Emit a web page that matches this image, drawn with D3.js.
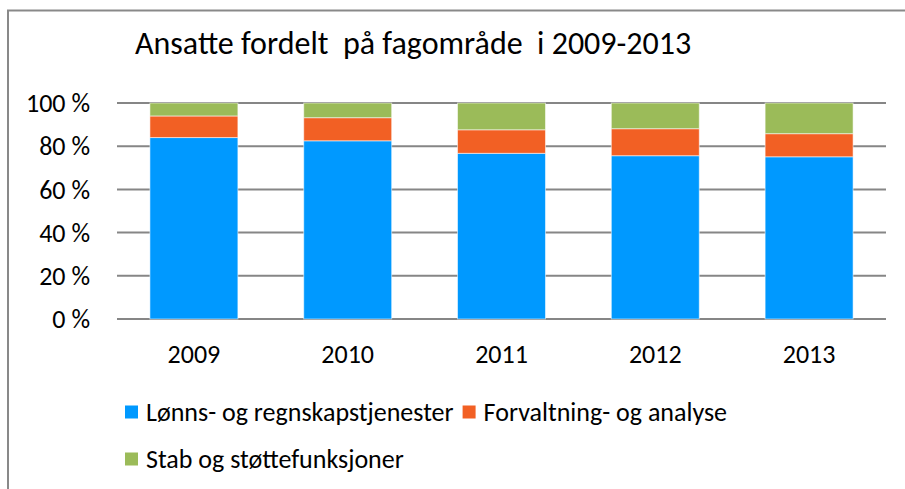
<!DOCTYPE html>
<html>
<head>
<meta charset="utf-8">
<script src="https://cdn.jsdelivr.net/npm/d3@7"></script>
<style>
  body { margin: 0; background: #fff; }
  text { font-family: Carlito, Lato, "Open Sans", sans-serif; fill: #000; }
</style>
</head>
<body>
<svg id="chart"></svg>
<script>
var years = ["2009", "2010", "2011", "2012", "2013"];
var lonn = [84, 82.5, 76.7, 75.6, 75.1];
var forvaltning = [10, 10.7, 10.9, 12.5, 10.7];
var stab = [6, 6.8, 12.4, 11.9, 14.2];
var seriesNames = ["Lønns- og regnskapstjenester", "Forvaltning- og analyse", "Stab og støttefunksjoner"];
var colors = ["#0099ff", "#f26024", "#9bbb59"];
var yTicks = [0, 20, 40, 60, 80, 100];

var width = 905;
var height = 489;

var svg = d3.select("#chart")
            .attr("width", width)
            .attr("height", height);

// frame
svg.append("rect")
   .attr("x", 8).attr("y", 10.5)
   .attr("width", 910).attr("height", 500)
   .attr("fill", "none")
   .attr("stroke", "#898989")
   .attr("stroke-width", 2);

svg.append("text")
   .text("Ansatte fordelt  på fagområde  i 2009-2013")
   .attr("x", 135)
   .attr("y", 54)
   .style("white-space", "pre")
   .attr("font-size", "32px");

var x = d3.scaleBand()
          .domain(years)
          .range([117, 886])
          .paddingInner(0.428)
          .paddingOuter(0.214);

var y = d3.scaleLinear()
          .domain([0, 100])
          .range([319, 103]);

// gridlines
svg.selectAll("line.grid")
   .data(yTicks)
   .enter()
   .append("line")
   .attr("class", "grid")
   .attr("x1", 117)
   .attr("x2", 886)
   .attr("y1", function(d) { return y(d); })
   .attr("y2", function(d) { return y(d); })
   .attr("stroke", "#868686")
   .attr("stroke-width", 2);

svg.selectAll("text.ytick")
   .data(yTicks)
   .enter()
   .append("text")
   .attr("class", "ytick")
   .text(function(d) { return d + " %"; })
   .attr("x", 90)
   .attr("y", function(d) { return y(d); })
   .attr("dy", "0.35em")
   .attr("text-anchor", "end")
   .attr("font-size", "26px");

var table = years.map(function(yr, i) {
  return { year: yr, s0: lonn[i], s1: forvaltning[i], s2: stab[i] };
});
var stacked = d3.stack().keys(["s0", "s1", "s2"])(table);

svg.selectAll("g.series")
   .data(stacked)
   .enter()
   .append("g")
   .attr("class", "series")
   .attr("fill", function(d, i) { return colors[i]; })
   .selectAll("rect")
   .data(function(d) { return d; })
   .enter()
   .append("rect")
   .attr("x", function(d) { return x(d.data.year); })
   .attr("width", x.bandwidth())
   .attr("y", function(d) { return y(d[1]); })
   .attr("height", function(d) { return y(d[0]) - y(d[1]); })
   .attr("stroke", "rgba(255,255,255,0.55)")
   .attr("stroke-width", 1);

svg.selectAll("text.xtick")
   .data(years)
   .enter()
   .append("text")
   .attr("class", "xtick")
   .text(function(d) { return d; })
   .attr("x", function(d) { return x(d) + x.bandwidth() / 2; })
   .attr("y", 354)
   .attr("dy", "0.35em")
   .attr("text-anchor", "middle")
   .attr("font-size", "26px");

// legend: first row holds two items, second row one
var legend = svg.selectAll("g.legend")
   .data(seriesNames)
   .enter()
   .append("g")
   .attr("class", "legend");

legend.append("rect")
      .attr("x", 0).attr("y", -6.5)
      .attr("width", 13).attr("height", 13)
      .attr("fill", function(d, i) { return colors[i]; });

legend.append("text")
      .text(function(d) { return d; })
      .attr("x", 21)
      .attr("dy", "0.35em")
      .attr("font-size", "26px");

var firstWidth = legend.filter(function(d, i) { return i == 0; }).select("text").node().getComputedTextLength();
var legendPos = [[125, 412], [125 + 21 + firstWidth + 9, 412], [125, 459]];
legend.attr("transform", function(d, i) { return "translate(" + legendPos[i][0] + "," + legendPos[i][1] + ")"; });
</script>
</body>
</html>
